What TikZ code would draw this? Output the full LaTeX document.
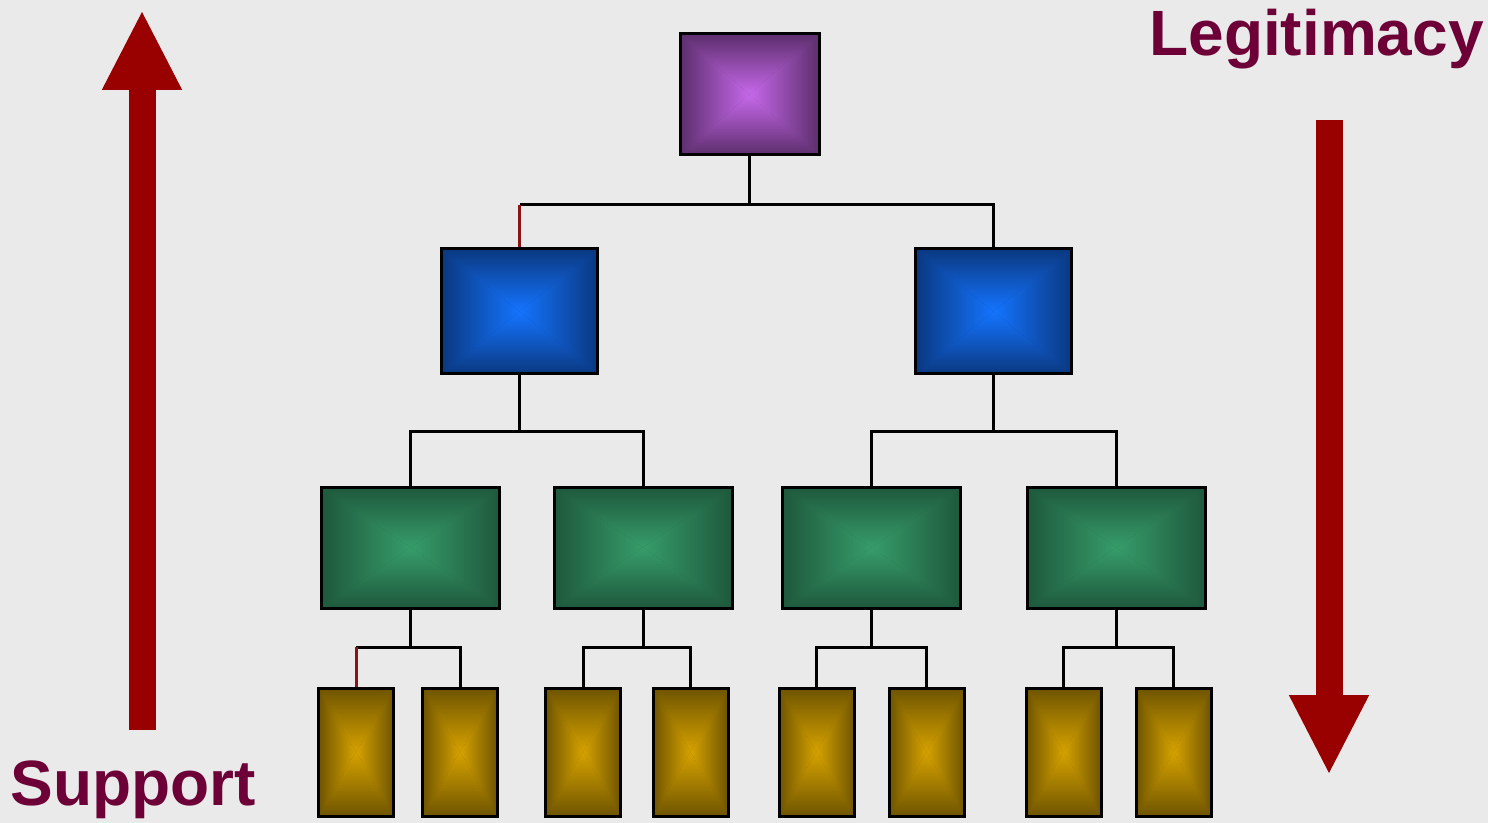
\documentclass[tikz,border=0pt]{standalone}
\usepackage{fontspec}
\setmainfont{Liberation Sans}
\usetikzlibrary{arrows.meta}

\definecolor{bgGray}{RGB}{234,234,234}
\definecolor{arrowRed}{RGB}{153,0,0}
\definecolor{dropRed}{RGB}{140,20,20}
\definecolor{labelWine}{RGB}{110,0,56}
\definecolor{purpEdge}{RGB}{92,46,108}
\definecolor{purpCore}{RGB}{198,104,234}
\definecolor{blueEdge}{RGB}{10,56,128}
\definecolor{blueCore}{RGB}{20,116,255}
\definecolor{grnEdge}{RGB}{30,88,60}
\definecolor{grnCore}{RGB}{54,156,106}
\definecolor{goldEdge}{RGB}{110,84,0}
\definecolor{goldCore}{RGB}{214,162,0}

\tikzset{
  bevel/.style 2 args={draw=black, line width=1.5pt, inner sep=0pt,
    path picture={
      \fill[#1] (path picture bounding box.south west) rectangle (path picture bounding box.north east);
      \shade[top color=#1, bottom color=#2] (path picture bounding box.north west) -- (path picture bounding box.north east) -- (path picture bounding box.center) -- cycle;
      \shade[top color=#2, bottom color=#1] (path picture bounding box.south west) -- (path picture bounding box.south east) -- (path picture bounding box.center) -- cycle;
      \shade[left color=#1, right color=#2] (path picture bounding box.north west) -- (path picture bounding box.south west) -- (path picture bounding box.center) -- cycle;
      \shade[left color=#2, right color=#1] (path picture bounding box.north east) -- (path picture bounding box.south east) -- (path picture bounding box.center) -- cycle;
    }},
  bossbox/.style={bevel={purpEdge}{purpCore}, minimum width=69.5pt, minimum height=60.5pt},
  divbox/.style={bevel={blueEdge}{blueCore}, minimum width=78pt, minimum height=62.5pt},
  unitbox/.style={bevel={grnEdge}{grnCore}, minimum width=89pt, minimum height=60.5pt},
  podbox/.style={bevel={goldEdge}{goldCore}, minimum width=37.5pt, minimum height=64pt},
  wire/.style={draw=black, line width=1.5pt},
  redwire/.style={draw=dropRed, line width=1.5pt},
  bigarrow/.style={draw=arrowRed, line width=13.5pt, -{Triangle[width=37pt,length=40pt]}},
  caption/.style={text=labelWine, font=\fontsize{32}{38}\selectfont\bfseries, inner sep=0pt},
}

\begin{document}
\begin{tikzpicture}[x=0.5pt,y=-0.5pt]
% background and page size
\fill[bgGray] (0,0) rectangle (1488,823);
\useasboundingbox (0,0) rectangle (1488,823);

% side arrows
\coordinate (supFoot) at (142,730);
\coordinate (supTip) at (142,10);
\coordinate (legTop) at (1329,120);
\coordinate (legTip) at (1329,775);
\draw[bigarrow] (supFoot) -- (supTip);
\draw[bigarrow] (legTop) -- (legTip);

% labels
\node[caption, anchor=base west] (legit) at (1149,56) {Legitimacy};
\node[caption, anchor=base west] (supp) at (10,805) {Support};

% level 1
\node[bossbox] (boss) at (749.5,94.5) {};

% level 2
\node[divbox] (divL) at (519.5,311.5) {};
\node[divbox] (divR) at (993.5,311.5) {};

% level 3
\node[unitbox] (unitA) at (410.5,547.5) {};
\node[unitbox] (unitB) at (643,547.5) {};
\node[unitbox] (unitC) at (871.5,547.5) {};
\node[unitbox] (unitD) at (1116.5,547.5) {};

% level 4
\node[podbox] (podA1) at (356,752) {};
\node[podbox] (podA2) at (460,752) {};
\node[podbox] (podB1) at (583,752) {};
\node[podbox] (podB2) at (690.5,752) {};
\node[podbox] (podC1) at (816.5,752) {};
\node[podbox] (podC2) at (926.5,752) {};
\node[podbox] (podD1) at (1063.5,752) {};
\node[podbox] (podD2) at (1173.5,752) {};

% junctions
\coordinate (j0) at (749.5,205);
\coordinate (jL) at (519.5,432);
\coordinate (jR) at (993.5,432);
\coordinate (jA) at (410.5,647);
\coordinate (jB) at (643,647);
\coordinate (jC) at (871.5,647);
\coordinate (jD) at (1116.5,647);

% connectors level 1 -> 2
\draw[wire] (boss.south) -- (j0);
\draw[wire] (j0) -- (j0 -| divL.north);
\draw[redwire] (j0 -| divL.north) -- (divL.north);
\draw[wire] (j0) -| (divR.north);

% connectors level 2 -> 3
\draw[wire] (divL.south) -- (jL);
\draw[wire] (jL) -| (unitA.north);
\draw[wire] (jL) -| (unitB.north);
\draw[wire] (divR.south) -- (jR);
\draw[wire] (jR) -| (unitC.north);
\draw[wire] (jR) -| (unitD.north);

% connectors level 3 -> 4
\draw[wire] (unitA.south) -- (jA);
\draw[wire] (jA) -- (jA -| podA1.north);
\draw[redwire] (jA -| podA1.north) -- (podA1.north);
\draw[wire] (jA) -| (podA2.north);
\draw[wire] (unitB.south) -- (jB);
\draw[wire] (jB) -| (podB1.north);
\draw[wire] (jB) -| (podB2.north);
\draw[wire] (unitC.south) -- (jC);
\draw[wire] (jC) -| (podC1.north);
\draw[wire] (jC) -| (podC2.north);
\draw[wire] (unitD.south) -- (jD);
\draw[wire] (jD) -| (podD1.north);
\draw[wire] (jD) -| (podD2.north);
\end{tikzpicture}
\end{document}
